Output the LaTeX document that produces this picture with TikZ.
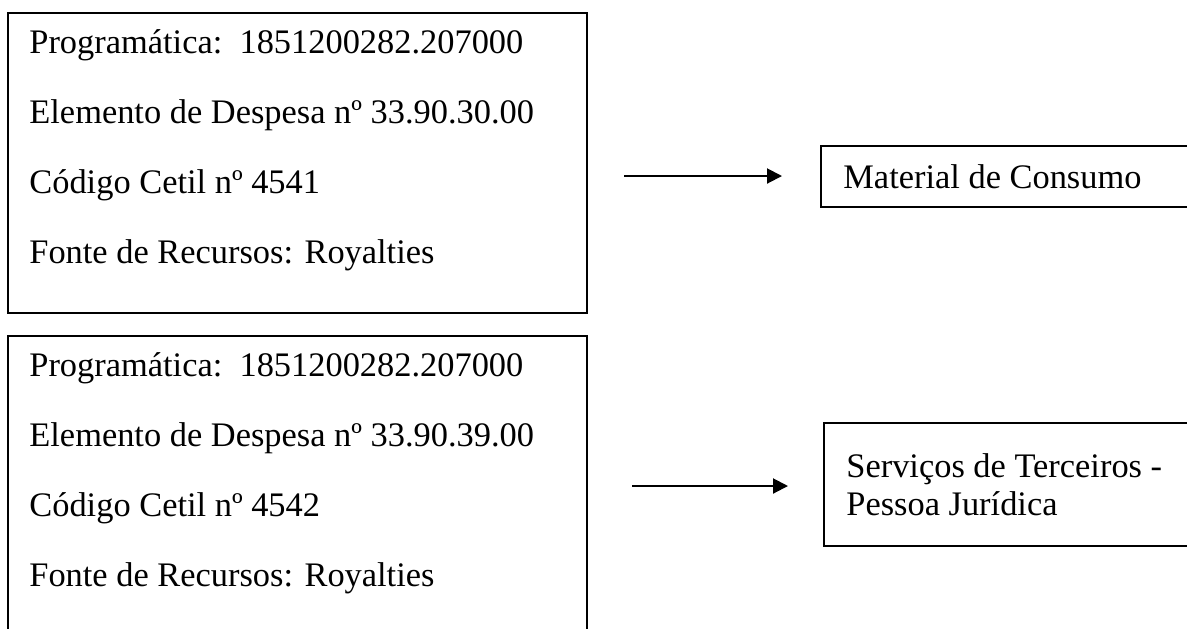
\documentclass[tikz,border=0pt]{standalone}
\usepackage{fontspec}
\setmainfont{Liberation Serif}
\usetikzlibrary{arrows.meta}

\begin{document}
\begin{tikzpicture}[x=0.5pt,y=-0.5pt,
    caixa/.style={draw,line width=1pt,rectangle,anchor=north west,inner sep=0pt},
    linha/.style={anchor=base west,inner sep=0pt,font=\fontsize{17.2}{20}\selectfont},
    seta/.style={line width=1pt,-{Triangle[length=7.5pt,width=7.5pt]}}]
      \useasboundingbox (0,0) rectangle (1187,628);
      \clip (0,0) rectangle (1187,628);
      % caixas da esquerda
      \node[caixa,minimum width=289.5pt,minimum height=150pt] (progA) at (7,12) {};
      \node[caixa,minimum width=289.5pt,minimum height=165pt] (progB) at (7,335) {};
      \foreach \txt [count=\i] in {Programática:\ \ 1851200282.207000,
          Elemento de Despesa nº 33.90.30.00,Código Cetil nº 4541,
          Fonte de Recursos: Royalties} {%
        \node[linha] (linA-\i) at (29,{53+70*(\i-1)}) {\txt};
      }
      \foreach \txt [count=\i] in {Programática:\ \ 1851200282.207000,
          Elemento de Despesa nº 33.90.39.00,Código Cetil nº 4542,
          Fonte de Recursos: Royalties} {%
        \node[linha] (linB-\i) at (29,{376+70*(\i-1)}) {\txt};
      }
      % caixas da direita
      \node[caixa,minimum width=190pt,minimum height=30.5pt] (matA) at (820,145) {};
      \node[linha] (matA-txt) at (843,188) {Material de Consumo};
      \node[caixa,minimum width=190pt,minimum height=61.5pt] (servB) at (823,422) {};
      \node[linha] (servB-txt1) at (846,477) {Serviços de Terceiros -};
      \node[linha] (servB-txt2) at (846,515) {Pessoa Jurídica};
      % setas
      \coordinate (setaA-i) at (624,176);
      \coordinate (setaA-f) at (782,176);
      \coordinate (setaB-i) at (632,486);
      \coordinate (setaB-f) at (788,486);
      \draw[seta] (setaA-i) -- (setaA-f);
      \draw[seta] (setaB-i) -- (setaB-f);
    \end{tikzpicture}
\end{document}
